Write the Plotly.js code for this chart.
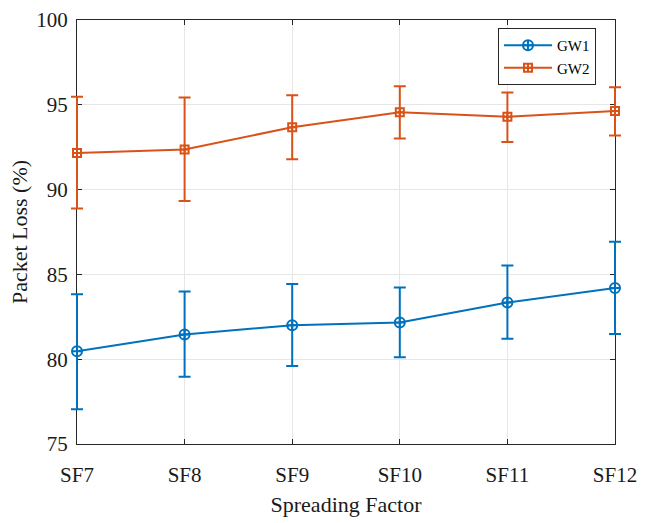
<!DOCTYPE html>
<html>
<head>
<meta charset="utf-8">
<script src="https://cdn.plot.ly/plotly-3.0.1.min.js"></script>
<style>html,body{margin:0;padding:0;background:#fff;}#chart{width:646px;height:523px;}</style>
</head>
<body>
<div id="chart"></div>
<script>
const categories = ["SF7", "SF8", "SF9", "SF10", "SF11", "SF12"];
const gw1Mean  = [80.47, 81.46, 82.00, 82.16, 83.34, 84.20];
const gw1Upper = [83.83, 83.99, 84.44, 84.23, 85.52, 86.92];
const gw1Lower = [77.05, 78.96, 79.60, 80.12, 81.20, 81.49];
const gw2Mean  = [92.16, 92.36, 93.68, 94.56, 94.29, 94.64];
const gw2Upper = [95.47, 95.43, 95.57, 96.10, 95.72, 96.04];
const gw2Lower = [88.88, 89.33, 91.79, 93.01, 92.81, 93.19];

const up = (u, m) => u.map((v, i) => +(v - m[i]).toFixed(3));
const dn = (l, m) => l.map((v, i) => +(m[i] - v).toFixed(3));
const xIdx = categories.map((_, i) => i);

const c1 = "#0072BD", c2 = "#D95319";
const traces = [
  {
    x: xIdx, y: gw1Mean, name: "GW1", type: "scatter", mode: "lines+markers", cliponaxis: false,
    line: {color: c1, width: 2},
    marker: {symbol: "circle-cross-open", size: 10, color: c1, line: {width: 2, color: c1}},
    error_y: {type: "data", symmetric: false, array: up(gw1Upper, gw1Mean), arrayminus: dn(gw1Lower, gw1Mean),
              color: c1, thickness: 2, width: 6}
  },
  {
    x: xIdx, y: gw2Mean, name: "GW2", type: "scatter", mode: "lines+markers", cliponaxis: false,
    line: {color: c2, width: 2},
    marker: {symbol: "square-cross-open", size: 8, color: c2, line: {width: 2, color: c2}},
    error_y: {type: "data", symmetric: false, array: up(gw2Upper, gw2Mean), arrayminus: dn(gw2Lower, gw2Mean),
              color: c2, thickness: 2, width: 6}
  }
];

const font = "'Liberation Serif', 'Times New Roman', serif";
const layout = {
  width: 646, height: 523,
  margin: {l: 77, r: 31, t: 20, b: 79},
  paper_bgcolor: "#fff", plot_bgcolor: "#fff",
  font: {family: font, color: "#1a1a1a", size: 21},
  showlegend: true,
  legend: {
    x: 0.7825, y: 0.981, xanchor: "left", yanchor: "top",
    bgcolor: "#fff", bordercolor: "#262626", borderwidth: 1,
    font: {family: font, size: 15, color: "#000"},
    tracegroupgap: 0, itemwidth: 48
  },
  xaxis: {
    tickmode: "array", tickvals: xIdx, ticktext: categories,
    range: [0, 5], showgrid: true, gridcolor: "#e6e6e6", gridwidth: 1,
    showline: true, linecolor: "#262626", linewidth: 1, mirror: "ticks",
    ticks: "inside", ticklen: 5, tickcolor: "#262626", layer: "below traces",
    zeroline: false, automargin: false, ticklabelstandoff: 12,
    tickfont: {family: font, size: 21, color: "#1a1a1a"},
    title: {text: "Spreading Factor", font: {family: font, size: 22, color: "#1a1a1a"}, standoff: 10}
  },
  yaxis: {
    range: [75, 100], tickmode: "array", tickvals: [75, 80, 85, 90, 95, 100],
    showgrid: true, gridcolor: "#e6e6e6", gridwidth: 1,
    showline: true, linecolor: "#262626", linewidth: 1, mirror: "ticks",
    ticks: "inside", ticklen: 5, tickcolor: "#262626", layer: "below traces",
    zeroline: false, automargin: false, ticklabelstandoff: 4,
    tickfont: {family: font, size: 21, color: "#1a1a1a"},
    title: {text: "Packet Loss (%)", font: {family: font, size: 22, color: "#1a1a1a"}, standoff: 2}
  }
};

Plotly.newPlot("chart", traces, layout, {displayModeBar: false, staticPlot: true}).then(function (gd) {
  // let error-bar caps at the first/last category extend past the axes, as in the reference
  gd.querySelectorAll(".errorbars, .errorbars path, .errorbar, .points, .trace.scatter").forEach(function (el) {
    el.removeAttribute("clip-path");
  });
  gd.querySelectorAll(".plot").forEach(function (el) { el.removeAttribute("clip-path"); });
});
</script>
</body>
</html>
